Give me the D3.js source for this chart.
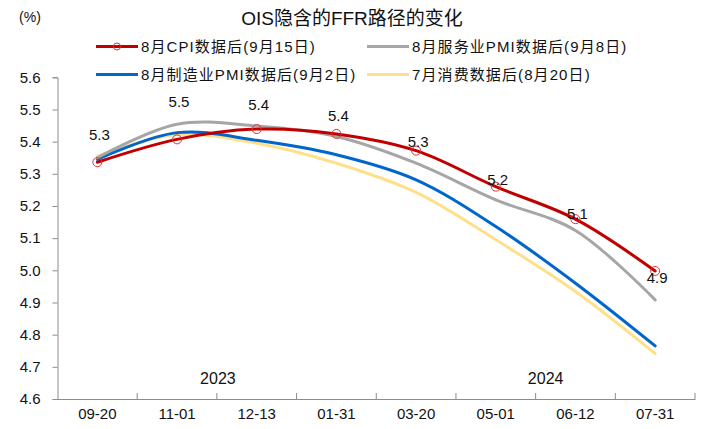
<!DOCTYPE html>
<html>
<head>
<meta charset="utf-8">
<script src="https://cdn.jsdelivr.net/npm/d3@7"></script>
<style>
  html, body { margin: 0; padding: 0; background: #fff; }
  svg { display: block; font-family: "Liberation Sans", Arial, "Noto Sans CJK SC", sans-serif; }
</style>
</head>
<body>
<svg id="chart" width="705" height="429"></svg>
<script>
// Release dates on the x axis
const categories = ["09-20", "11-01", "12-13", "01-31", "03-20", "05-01", "06-12", "07-31"];

// Implied FFR path (%) after each data release
const cpiAug = [5.336, 5.407, 5.439, 5.424, 5.372, 5.260, 5.159, 4.998];
const servicesPmiAug = [5.350, 5.454, 5.449, 5.416, 5.333, 5.219, 5.124, 4.908];
const mfgPmiAug = [5.345, 5.428, 5.404, 5.359, 5.281, 5.136, 4.960, 4.765];
const consumptionJul = [5.355, 5.422, 5.395, 5.333, 5.242, 5.095, 4.934, 4.741];

// Data labels on the CPI line
const cpiLabels = ["5.3", "5.5", "5.4", "5.4", "5.3", "5.2", "5.1", "4.9"];
const cpiLabelShift = [-28, -38, -25, -18, -9, -7, -6, 7];

const yTicks = [4.6, 4.7, 4.8, 4.9, 5.0, 5.1, 5.2, 5.3, 5.4, 5.5, 5.6];
const years = [{ text: "2023", at: "12-13", dx: 1 }, { text: "2024", at: "06-12", dx: 10 }];

const seriesNames = ["8月CPI数据后(9月15日)", "8月服务业PMI数据后(9月8日)", "8月制造业PMI数据后(9月2日)", "7月消费数据后(8月20日)"];
const seriesColors = ["#C00000", "#A6A6A6", "#0066CC", "#FFE08A"];

const series = [
  { name: seriesNames[0], values: cpiAug, color: seriesColors[0], marker: true },
  { name: seriesNames[1], values: servicesPmiAug, color: seriesColors[1] },
  { name: seriesNames[2], values: mfgPmiAug, color: seriesColors[2] },
  { name: seriesNames[3], values: consumptionJul, color: seriesColors[3] }
];

const svg = d3.select("#chart");
const axisColor = "#8C8C8C";

const x = d3.scaleBand().domain(categories).range([57.5, 695]).padding(0);
const y = d3.scaleLinear().domain([4.6, 5.6]).range([399, 77.3]);
const cx = c => x(c) + x.bandwidth() / 2;

// Title and unit
svg.append("text").attr("x", 352).attr("y", 25).attr("text-anchor", "middle")
  .style("font-size", "19px").attr("fill", "#111").text("OIS隐含的FFR路径的变化");
svg.append("text").attr("x", 30).attr("y", 22).attr("text-anchor", "middle")
  .style("font-size", "14px").attr("fill", "#111").text("(%)");

// Legend, two rows by two columns
const legendPos = [[96, 46.5], [367, 46.5], [96, 74.5], [367, 74.5]];
series.forEach((s, i) => {
  const [lx, ly] = legendPos[i];
  const g = svg.append("g").attr("transform", `translate(${lx},${ly})`);
  g.append("line").attr("x1", 0).attr("x2", 42).attr("y1", 0).attr("y2", 0)
    .attr("stroke", s.color).attr("stroke-width", 3);
  if (s.marker) {
    g.append("circle").attr("cx", 21).attr("cy", 0).attr("r", 3.5)
      .attr("fill", "none").attr("stroke", "#E03030").attr("stroke-width", 1);
  }
  g.append("text").attr("x", 45).attr("y", 5.5)
    .style("font-size", "15px").style("letter-spacing", "1.1px").attr("fill", "#111").text(s.name);
});

// Y axis
const yAxis = d3.axisLeft(y).tickValues(yTicks).tickFormat(d3.format(".1f")).tickSizeOuter(0).tickSize(5).tickPadding(12);
const gy = svg.append("g").attr("transform", "translate(57.5,0)").call(yAxis);
gy.select(".domain").attr("stroke", axisColor);
gy.selectAll(".tick line").attr("stroke", axisColor);
gy.selectAll(".tick text").style("font-size", "15px").attr("fill", "#111").attr("font-family", "Liberation Sans, Arial, sans-serif");

// X axis with ticks between categories, pointing upward
const xAxis = d3.axisBottom(x).tickSize(0).tickPadding(9);
const gx = svg.append("g").attr("transform", "translate(0,399)").call(xAxis);
gx.select(".domain").attr("stroke", axisColor);
gx.selectAll(".tick text").style("font-size", "15px").attr("fill", "#111").attr("font-family", "Liberation Sans, Arial, sans-serif");
const bounds = categories.slice(1).map(c => x(c)).concat([x.range()[1]]);
svg.append("g").selectAll("line").data(bounds).join("line")
  .attr("x1", d => d).attr("x2", d => d).attr("y1", 399).attr("y2", 393)
  .attr("stroke", axisColor);

// Year captions
svg.append("g").selectAll("text").data(years).join("text")
  .attr("x", d => x(d.at) + d.dx)
  .attr("y", 384).attr("text-anchor", "middle")
  .style("font-size", "16px").attr("fill", "#111").text(d => d.text);

// Lines, drawn back to front
const line = d3.line().x((d, i) => cx(categories[i])).y(d => y(d)).curve(d3.curveCatmullRom.alpha(0.5));
[3, 2, 1, 0].forEach(k => {
  const s = series[k];
  svg.append("path").datum(s.values).attr("d", line)
    .attr("fill", "none").attr("stroke", s.color).attr("stroke-width", 3)
    .attr("stroke-linecap", "round").attr("stroke-linejoin", "round");
});

// CPI markers
svg.append("g").selectAll("circle").data(cpiAug).join("circle")
  .attr("cx", (d, i) => cx(categories[i])).attr("cy", d => y(d)).attr("r", 4.5)
  .attr("fill", "none").attr("stroke", "#E03030").attr("stroke-width", 1);

// CPI data labels
svg.append("g").selectAll("text").data(cpiAug).join("text")
  .attr("x", (d, i) => cx(categories[i]) + 2)
  .attr("y", (d, i) => y(d) + cpiLabelShift[i] + 5.5)
  .attr("text-anchor", "middle").style("font-size", "15px").attr("fill", "#111")
  .text((d, i) => cpiLabels[i]);
</script>
</body>
</html>
